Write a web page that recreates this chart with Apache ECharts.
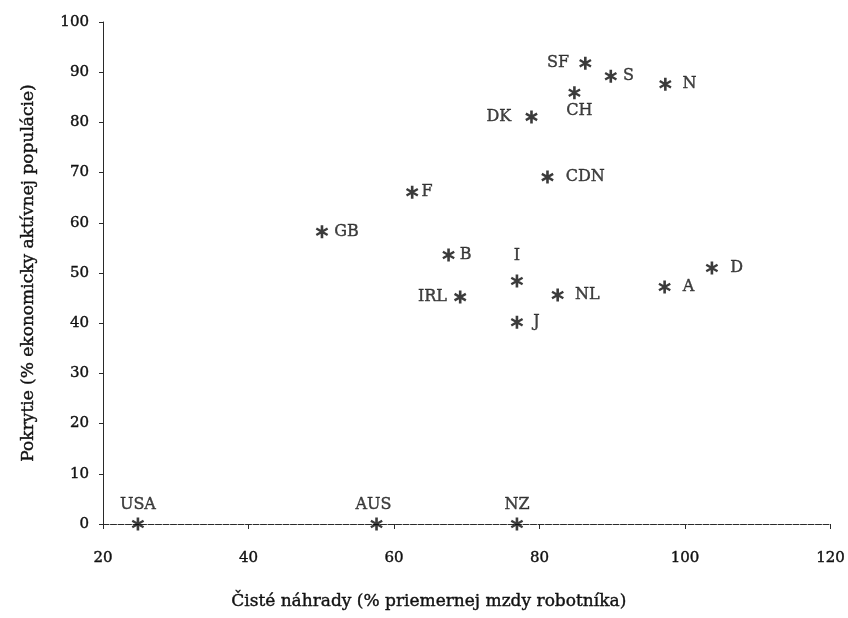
<!DOCTYPE html>
<html>
<head>
<meta charset="utf-8">
<script src="https://cdn.jsdelivr.net/npm/echarts@6/dist/echarts.min.js"></script>
<style>
  html, body { margin: 0; padding: 0; background: #ffffff; }
  #chart { width: 848px; height: 618px; }
</style>
</head>
<body>
<div id="chart"></div>
<script>
// Countries and their values
const countries   = ['USA', 'AUS', 'NZ', 'SF', 'S', 'N', 'CH', 'DK', 'CDN', 'F', 'GB', 'B', 'I', 'IRL', 'NL', 'J', 'A', 'D'];
const replacement = [24.8, 57.6, 76.9, 86.3, 89.8, 97.3, 84.8, 78.9, 81.1, 62.5, 50.1, 67.5, 76.9, 69.1, 82.5, 76.9, 97.2, 103.7];
const coverage    = [0, 0, 0, 91.8, 89.2, 87.6, 85.9, 81.1, 69.1, 66.1, 58.2, 53.6, 48.4, 45.2, 45.6, 40.2, 47.2, 51.0];

const xTicks = [20, 40, 60, 80, 100, 120];
const yTicks = [0, 10, 20, 30, 40, 50, 60, 70, 80, 90, 100];

const xTitle = 'Čisté náhrady (% priemernej mzdy robotníka)';
const yTitle = 'Pokrytie (% ekonomicky aktívnej populácie)';

// Label placement for each country tag: [position, distance, offset]
const labelPlacement = {
  USA: ['top', 5], AUS: ['top', 5, [-3, 0]], NZ: ['top', 5],
  SF: ['left', 10], S: ['right', 6], N: ['right', 11],
  CH: ['bottom', 4, [5, 0]], DK: ['left', 14], CDN: ['right', 12],
  F: ['right', 3], GB: ['right', 6], B: ['right', 5],
  I: ['top', 11], IRL: ['left', 7], NL: ['right', 11],
  J: ['right', 10], A: ['right', 12], D: ['right', 12]
};

// Six-armed asterisk built from three bars with the same winding
const asterisk = 'path://' +
  'M-1.2,-6 L1.2,-6 L1.2,6 L-1.2,6 Z ' +
  'M4.646,3.953 L-5.746,-2.047 L-4.646,-3.953 L5.746,2.047 Z ' +
  'M-5.746,2.047 L4.646,-3.953 L5.746,-2.047 L-4.646,3.953 Z';

const serif = '"DejaVu Serif", "Liberation Serif", serif';
const ink = '#111111';
// a thin outline in the same colour gives the heavier, printed look
const heavy = { color: ink, textBorderColor: ink, textBorderWidth: 0.4 };

const points = countries.map((name, i) => {
  const p = labelPlacement[name];
  const label = { position: p[0], distance: p[1] };
  if (p[2]) label.offset = p[2];
  return { name: name, value: [replacement[i], coverage[i]], label: label };
});

const chart = echarts.init(document.getElementById('chart'), null, { renderer: 'canvas' });

chart.setOption({
  backgroundColor: '#ffffff',
  animation: false,
  grid: { left: 103, right: 15, top: 22, bottom: 94, containLabel: false },
  xAxis: {
    type: 'value',
    min: xTicks[0],
    max: xTicks[xTicks.length - 1],
    interval: 20,
    name: xTitle,
    nameLocation: 'middle',
    nameGap: 69,
    nameTextStyle: Object.assign({ fontFamily: serif, fontSize: 17, padding: [0, 76, 0, 0] }, heavy),
    axisLine: { show: true, lineStyle: { color: '#2a2a2a', width: 1, type: [6, 1.5] } },
    axisTick: { show: true, inside: false, length: 5, lineStyle: { color: '#2a2a2a' } },
    axisLabel: Object.assign({ fontFamily: serif, fontSize: 15, margin: 27 }, heavy),
    splitLine: { show: false }
  },
  yAxis: {
    type: 'value',
    min: yTicks[0],
    max: yTicks[yTicks.length - 1],
    interval: 10,
    name: yTitle,
    nameLocation: 'middle',
    nameGap: 66,
    nameRotate: 90,
    nameTextStyle: Object.assign({ fontFamily: serif, fontSize: 17 }, heavy),
    axisLine: { show: true, lineStyle: { color: '#2a2a2a', width: 1 } },
    axisTick: { show: true, inside: false, length: 4, lineStyle: { color: '#2a2a2a' } },
    axisLabel: Object.assign({ fontFamily: serif, fontSize: 15, margin: 14 }, heavy),
    splitLine: { show: false }
  },
  series: [{
    type: 'scatter',
    data: points,
    symbol: asterisk,
    symbolSize: [12.5, 13],
    itemStyle: { color: '#0a0a0a' },
    label: Object.assign({
      show: true,
      formatter: '{b}',
      fontFamily: serif,
      fontSize: 16
    }, heavy),
    clip: false
  }]
});
</script>
</body>
</html>
